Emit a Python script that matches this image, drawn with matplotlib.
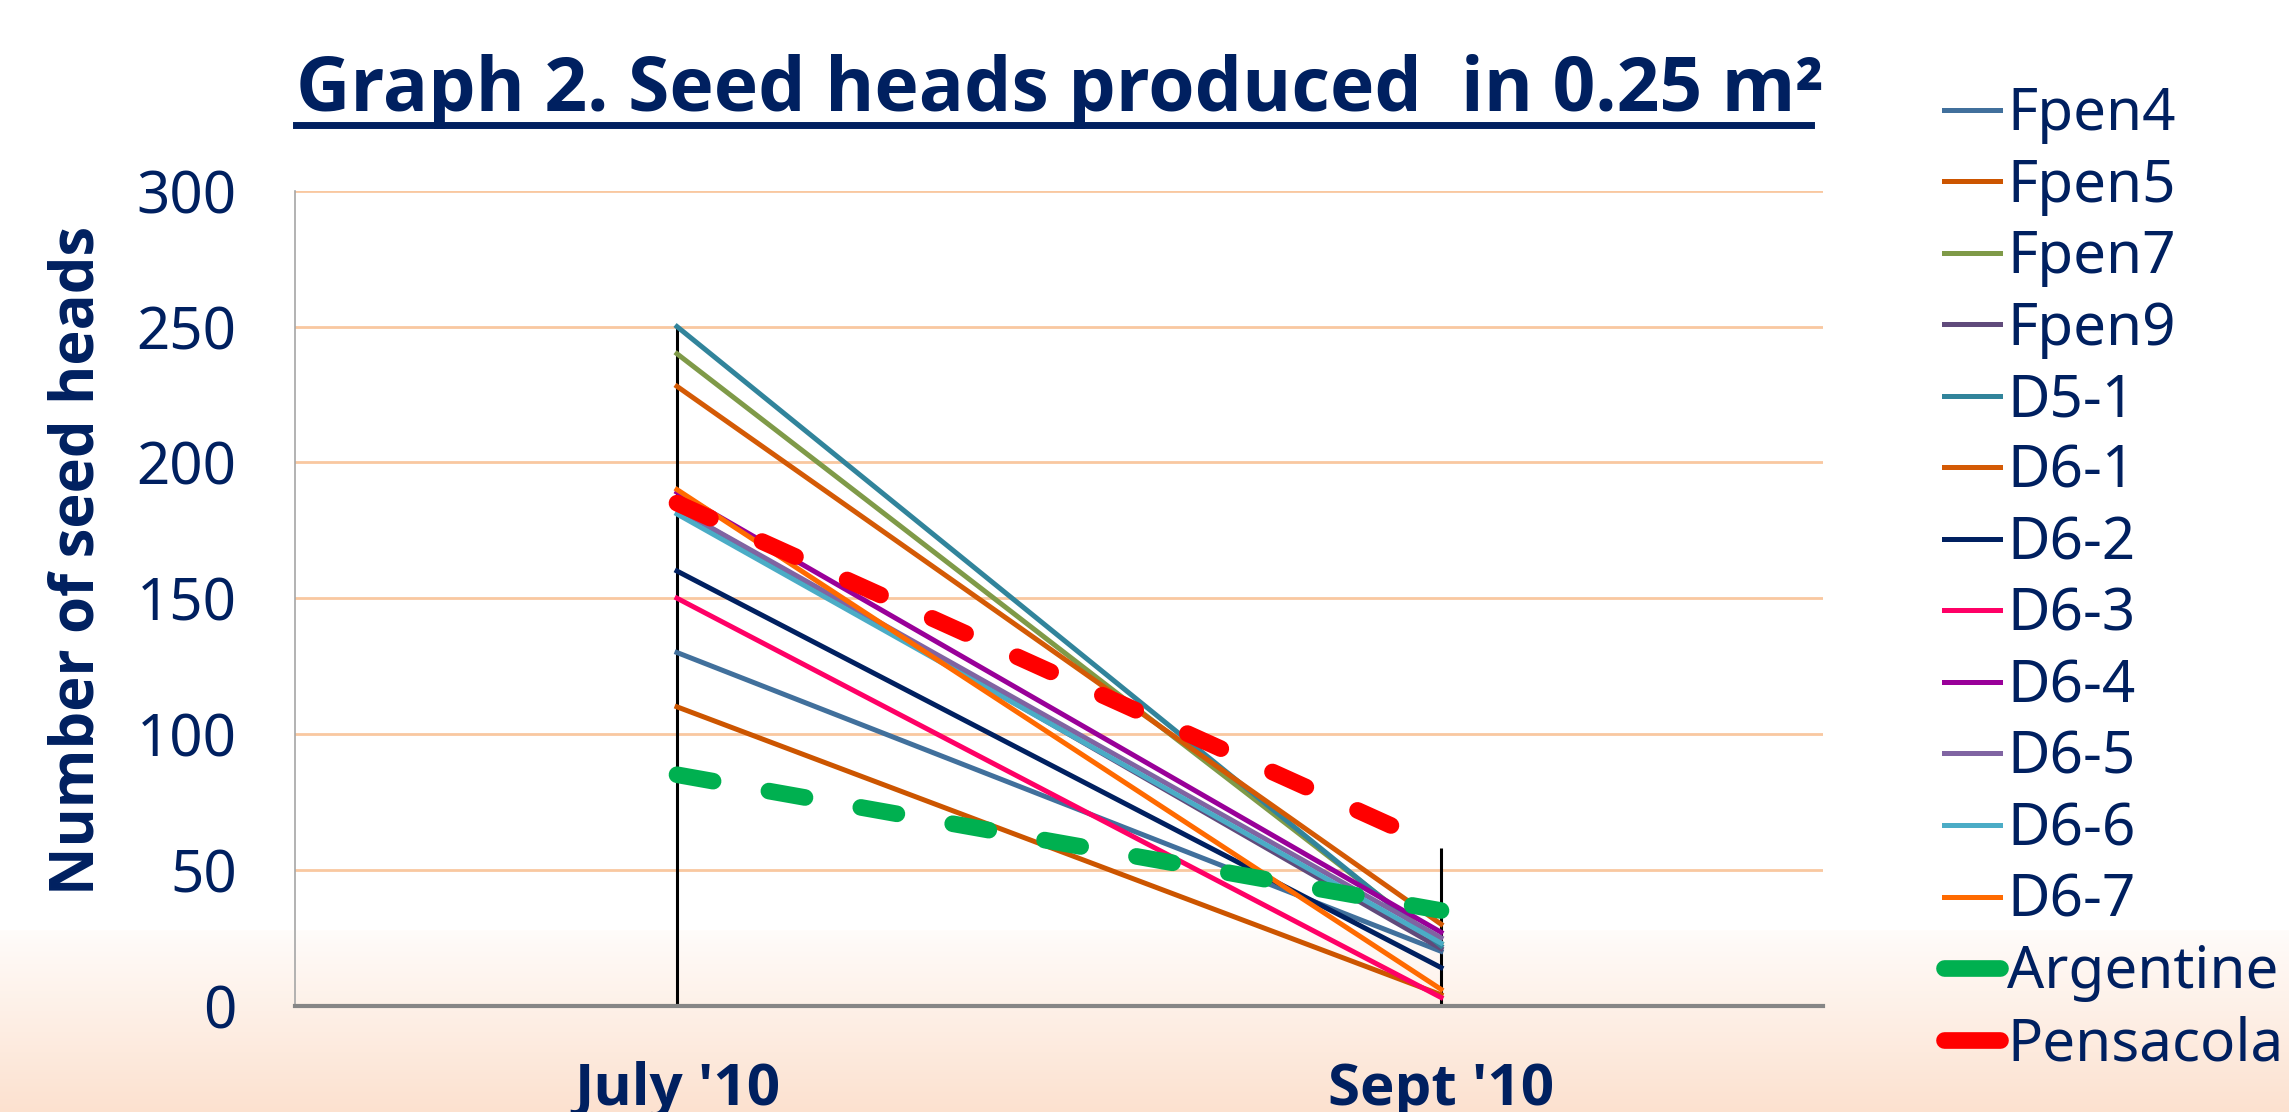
import numpy as np
import matplotlib
matplotlib.use("Agg")
import matplotlib.pyplot as plt
from matplotlib.lines import Line2D
from matplotlib.colors import to_rgb
from matplotlib import font_manager as fm

# data
categories = ["July '10", "Sept '10"]
series_names = ["Fpen4", "Fpen5", "Fpen7", "Fpen9", "D5-1", "D6-1", "D6-2",
                "D6-3", "D6-4", "D6-5", "D6-6", "D6-7", "Argentine", "Pensacola"]
july_values = [130, 110, 240, 183, 250, 228, 160, 150, 189, 183, 181, 190, 85, 185]
sept_values = [20, 4, 23, 21, 22, 30, 14, 3, 27, 25, 23, 6, 35, 58]
y_ticks = [0, 50, 100, 150, 200, 250, 300]

colors = ["#41709C", "#CC5500", "#7F9A48", "#604A7B", "#31849B", "#D45A05",
          "#002060", "#FF0066", "#990099", "#8064A2", "#4BACC6", "#FF6A00",
          "#00B050", "#FF0000"]
thick = {"Argentine", "Pensacola"}

NAVY = "#002060"
W, H = 2289, 1112
plt.rcParams['font.family'] = ['Noto Sans', 'DejaVu Sans']


def pick_bold():
    # first family that really has a bold face
    for fam in ['Noto Sans', 'Open Sans', 'Lato', 'Roboto', 'DejaVu Sans']:
        try:
            path = fm.findfont(fm.FontProperties(family=fam, weight='bold'),
                               fallback_to_default=False)
        except Exception:
            continue
        if 'bold' in path.lower():
            return fam
    return 'DejaVu Sans'


BOLD = pick_bold()

fig = plt.figure(figsize=(W / 100, H / 100), dpi=100)

# background: white, fading to peach at the bottom
bg = fig.add_axes([0, 0, 1, 1], zorder=-10)
rows = np.ones((H, 1, 3))
start = 930
top_c = np.array(to_rgb("#FFFCFA"))
bot_c = np.array(to_rgb("#FCE1CF"))
for r in range(start, H):
    t = (r - start) / (H - start)
    rows[r, 0] = top_c + (bot_c - top_c) * t
bg.imshow(rows, aspect='auto', extent=[0, 1, 0, 1], interpolation='nearest')
bg.set_axis_off()

ax = fig.add_axes([295 / W, 1 - 1005.6 / H, (1823 - 295) / W, (1005.6 - 190.8) / H])
ax.set_facecolor('none')
x = np.arange(len(categories))

# drop lines from the highest value down to the axis
for xi, vals in zip(x, [july_values, sept_values]):
    ax.vlines(xi, 0, max(vals), color='black', lw=2.2, zorder=2)

handles = []
for name, j, s, c in zip(series_names, july_values, sept_values, colors):
    if name in thick:
        ax.plot(x, [j, s], color=c, lw=12, dashes=(2.2, 3.4),
                dash_capstyle='round', zorder=4)
        handles.append(Line2D([], [], color=c, lw=12, solid_capstyle='round',
                              label=name))
    else:
        ax.plot(x, [j, s], color=c, lw=3.6, zorder=3)
        handles.append(Line2D([], [], color=c, lw=3.6, label=name))

ax.set_xlim(-0.5, 1.5)
ax.set_ylim(0, 300)
ax.set_yticks(y_ticks)
ax.set_xticks(x)
ax.set_xticklabels(categories, fontsize=42, fontweight='bold', color=NAVY,
                   family=BOLD)
ax.tick_params(axis='y', length=0, pad=42, labelsize=42, labelcolor=NAVY)
ax.tick_params(axis='x', length=0, pad=40)
ax.grid(axis='y', color='#F9C8A0', lw=2)
ax.set_axisbelow(True)
for sp in ['top', 'right']:
    ax.spines[sp].set_visible(False)
ax.spines['left'].set_color('#A6A6A6')
ax.spines['left'].set_linewidth(1.2)
ax.spines['bottom'].set_color('#868686')
ax.spines['bottom'].set_linewidth(3)
ax.spines['bottom'].set_zorder(5)

fig.text(78 / W, 1 - 560 / H, "Number of seed heads", rotation=90,
         ha='center', va='center', fontsize=43, fontweight='bold', color=NAVY,
         family=BOLD)

fig.text(296 / W, 1 - 111 / H, "Graph 2. Seed heads produced  in 0.25 m\u00b2",
         ha='left', va='baseline', fontsize=54, fontweight='bold', color=NAVY,
         family=BOLD)
fig.add_artist(Line2D([296 / W, 1811 / W], [1 - 124.5 / H] * 2, lw=5, color=NAVY))

ax.legend(handles=handles, loc='upper left', bbox_to_anchor=(1944 / W, 1 - 85 / H),
          bbox_transform=fig.transFigure, frameon=False, fontsize=42,
          labelcolor=NAVY, handlelength=0.96, handletextpad=0.12,
          labelspacing=0.215, borderpad=0, borderaxespad=0)

fig.savefig("out.png", dpi=100)
